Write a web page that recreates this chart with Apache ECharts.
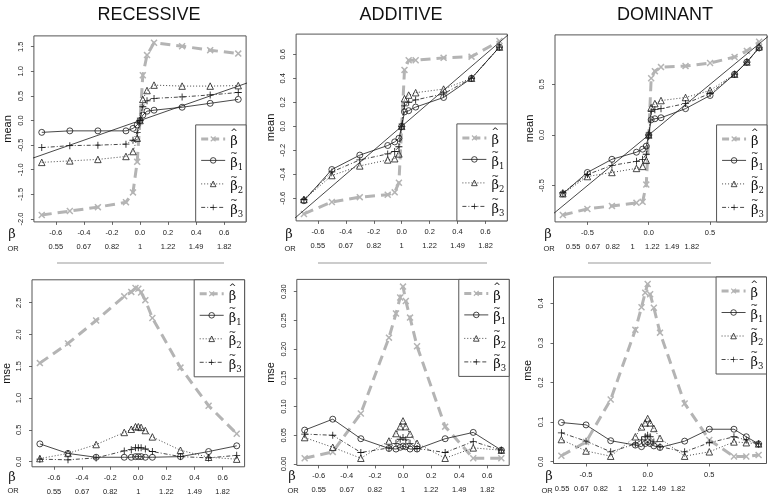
<!DOCTYPE html>
<html><head><meta charset="utf-8">
<script src="https://cdn.jsdelivr.net/npm/echarts@6/dist/echarts.min.js"></script>
<style>html,body{margin:0;padding:0;background:#fff}#c{width:769px;height:497px}</style>
</head><body><div id="c"></div>
<script>
// ---------- data ----------
const betaX = [-0.7,-0.5,-0.3,-0.1,-0.05,-0.02,0,0.02,0.05,0.1,0.3,0.5,0.7];
const betaXDom = [-0.7,-0.5,-0.3,-0.1,-0.05,-0.02,0,0.02,0.05,0.1,0.3,0.5,0.7,0.8,0.9];

const recMeanHat = [-1.92,-1.84,-1.76,-1.66,-1.46,-0.84,0.0,0.92,1.33,1.58,1.51,1.43,1.36];
const recMeanT1  = [-0.24,-0.21,-0.21,-0.21,-0.16,-0.09,0,0.11,0.19,0.21,0.27,0.35,0.43];
const recMeanT2  = [-0.85,-0.82,-0.79,-0.73,-0.63,-0.36,0,0.43,0.61,0.72,0.70,0.70,0.71];
const recMeanT3  = [-0.55,-0.51,-0.50,-0.48,-0.40,-0.24,0,0.28,0.40,0.45,0.48,0.52,0.57];

const addMeanHat = [-0.73,-0.63,-0.59,-0.57,-0.55,-0.47,0,0.47,0.55,0.55,0.57,0.58,0.71];
const addMeanT1  = [-0.62,-0.36,-0.24,-0.16,-0.13,-0.10,0,0.12,0.13,0.16,0.24,0.40,0.66];
const addMeanT2  = [-0.61,-0.41,-0.33,-0.28,-0.27,-0.23,0,0.23,0.26,0.28,0.31,0.40,0.66];
const addMeanT3  = [-0.61,-0.38,-0.28,-0.23,-0.21,-0.17,0,0.17,0.20,0.22,0.27,0.40,0.66];

const domMeanHat = [-0.79,-0.73,-0.70,-0.67,-0.66,-0.49,0,0.56,0.63,0.67,0.68,0.71,0.77,0.83,0.92];
const domMeanT1  = [-0.58,-0.37,-0.24,-0.17,-0.14,-0.11,0,0.15,0.16,0.17,0.26,0.39,0.60,0.72,0.86];
const domMeanT2  = [-0.58,-0.41,-0.37,-0.33,-0.31,-0.25,0,0.27,0.31,0.34,0.37,0.44,0.60,0.72,0.87];
const domMeanT3  = [-0.57,-0.39,-0.30,-0.26,-0.24,-0.19,0,0.23,0.25,0.26,0.31,0.41,0.60,0.72,0.86];

const recMseHat = [1.55,1.86,2.22,2.60,2.67,2.73,2.72,2.66,2.54,2.26,1.48,0.88,0.44];
const recMseT1  = [0.28,0.13,0.07,0.07,0.07,0.08,0.08,0.08,0.07,0.07,0.08,0.16,0.25];
const recMseT2  = [0.05,0.13,0.27,0.46,0.51,0.55,0.55,0.54,0.49,0.39,0.18,0.07,0.04];
const recMseT3  = [0.04,0.03,0.06,0.17,0.19,0.22,0.22,0.22,0.20,0.16,0.08,0.06,0.10];

const addMseHat = [0.010,0.021,0.088,0.220,0.262,0.290,0.309,0.284,0.255,0.205,0.065,0.010,0.010];
const addMseT1  = [0.059,0.078,0.044,0.027,0.026,0.029,0.031,0.030,0.026,0.026,0.044,0.055,0.024];
const addMseT2  = [0.046,0.029,0.010,0.040,0.053,0.065,0.075,0.065,0.052,0.036,0.010,0.028,0.024];
const addMseT3  = [0.052,0.050,0.020,0.028,0.036,0.043,0.046,0.042,0.036,0.027,0.020,0.039,0.024];

const domMseHat = [0.015,0.050,0.157,0.333,0.390,0.427,0.449,0.423,0.389,0.326,0.147,0.055,0.013,0.013,0.017];
const domMseT1  = [0.099,0.093,0.053,0.042,0.038,0.046,0.050,0.046,0.040,0.036,0.052,0.082,0.082,0.063,0.045];
const domMseT2  = [0.056,0.027,0.014,0.063,0.088,0.098,0.109,0.098,0.084,0.059,0.014,0.025,0.050,0.048,0.045];
const domMseT3  = [0.073,0.052,0.025,0.045,0.055,0.063,0.067,0.063,0.050,0.038,0.025,0.048,0.063,0.055,0.045];

const diagLine = [-1.2, 1.2];

const recMeanYTicks = [-2.0,-1.5,-1.0,-0.5,0.0,0.5,1.0,1.5];
const addMeanYTicks = [-0.6,-0.4,-0.2,0.0,0.2,0.4,0.6];
const domMeanYTicks = [-0.5,0.0,0.5];
const recMseYTicks = [0.0,0.5,1.0,1.5,2.0,2.5];
const addMseYTicks = [0.00,0.05,0.10,0.15,0.20,0.25,0.30];
const domMseYTicks = [0.0,0.1,0.2,0.3,0.4];
const betaTicks = [-0.6,-0.4,-0.2,0.0,0.2,0.4,0.6];
const betaTicksDom = [-0.5,0.0,0.5];
const orTicks = [-0.6,-0.4,-0.2,0.0,0.2,0.4,0.6];
const orLabels = ['0.55','0.67','0.82','1','1.22','1.49','1.82'];
const titles = ['RECESSIVE','ADDITIVE','DOMINANT'];

// ---------- layout ----------
const panels = [
  {x:betaX, s:[recMeanHat,recMeanT1,recMeanT2,recMeanT3], diag:true, yt:recMeanYTicks, xt:betaTicks, dec:1, yname:'mean',
   g:{left:33.9, top:35.9, width:212.2, height:186.0}, xr:[-0.756,0.756], yr:[-2.06,1.72], orr:[-0.756,0.756], leg:'br'},
  {x:betaX, s:[addMeanHat,addMeanT1,addMeanT2,addMeanT3], diag:true, yt:addMeanYTicks, xt:betaTicks, dec:1, yname:'mean',
   g:{left:296.1, top:34.1, width:211.2, height:186.8}, xr:[-0.756,0.756], yr:[-0.788,0.768], orr:[-0.756,0.756], leg:'br'},
  {x:betaXDom, s:[domMeanHat,domMeanT1,domMeanT2,domMeanT3], diag:true, yt:domMeanYTicks, xt:betaTicksDom, dec:1, yname:'mean',
   g:{left:555, top:34.9, width:212, height:187}, xr:[-0.764,0.964], yr:[-0.858,0.988], orr:[-0.783,1.359], leg:'br'},
  {x:betaX, s:[recMseHat,recMseT1,recMseT2,recMseT3], diag:false, yt:recMseYTicks, xt:betaTicks, dec:1, yname:'mse',
   g:{left:31.4, top:279.8, width:213.2, height:187}, xr:[-0.756,0.756], yr:[-0.08,2.86], orr:[-0.756,0.756], leg:'tr'},
  {x:betaX, s:[addMseHat,addMseT1,addMseT2,addMseT3], diag:false, yt:addMseYTicks, xt:betaTicks, dec:2, yname:'mse',
   g:{left:296.8, top:279.4, width:212.4, height:186}, xr:[-0.756,0.756], yr:[-0.0025,0.3215], orr:[-0.756,0.756], leg:'tr'},
  {x:betaXDom, s:[domMseHat,domMseT1,domMseT2,domMseT3], diag:false, yt:domMseYTicks, xt:betaTicksDom, dec:1, yname:'mse',
   g:{left:553.5, top:277, width:213, height:186.5}, xr:[-0.764,0.964], yr:[-0.0045,0.4665], orr:[-0.688,1.515], leg:'tr'}
];

const XSYM = 'path://M0,1.5L1.5,0L5,3.5L8.5,0L10,1.5L6.5,5L10,8.5L8.5,10L5,6.5L1.5,10L0,8.5L3.5,5Z';
const PLUS = 'path://M4.4,0H5.6V4.4H10V5.6H5.6V10H4.4V5.6H0V4.4H4.4Z';
const GRAY = '#b4b4b4';
const INK = '#1a1a1a';
const CLEAR = 'rgba(255,255,255,0)';
const serNames = ['hat','t1','t2','t3'];
const serStyle = {
  hat:{lineStyle:{color:GRAY,width:3,type:[10,6]}, symbol:XSYM, symbolSize:7, itemStyle:{color:GRAY}, z:2},
  t1:{lineStyle:{color:INK,width:0.8,type:'solid'}, symbol:'circle', symbolSize:6, itemStyle:{color:CLEAR,borderColor:INK,borderWidth:0.8}, z:4},
  t2:{lineStyle:{color:INK,width:0.8,type:[1,2]}, symbol:'triangle', symbolSize:6.5, itemStyle:{color:CLEAR,borderColor:INK,borderWidth:0.8}, z:4},
  t3:{lineStyle:{color:INK,width:0.8,type:[4,2,1,2]}, symbol:PLUS, symbolSize:7, itemStyle:{color:INK}, z:4}
};
const legendItems = [
  {name:'hat', itemStyle:{color:GRAY, borderWidth:0}, lineStyle:{color:GRAY, width:3, type:[7,4]}},
  {name:'t1', itemStyle:{color:CLEAR, borderColor:INK, borderWidth:0.8}, lineStyle:{color:INK, width:0.8, type:'solid'}},
  {name:'t2', itemStyle:{color:CLEAR, borderColor:INK, borderWidth:0.8}, lineStyle:{color:INK, width:0.8, type:[1,2]}},
  {name:'t3', itemStyle:{color:INK, borderWidth:0}, lineStyle:{color:INK, width:0.8, type:[4,2,1,2]}}
];
const legendText = {hat:'{h|^}\n{b|β}', t1:'{h|~}\n{b|β}{s|1}', t2:'{h|~}\n{b|β}{s|2}', t3:'{h|~}\n{b|β}{s|3}'};
const FONT = 'Liberation Sans';
const SERIF = 'DejaVu Serif';
const W = 769, H = 497;

const option = {backgroundColor:'#fff', animation:false, grid:[], xAxis:[], yAxis:[], series:[], legend:[], title:[], graphic:[]};

function fmt(dec){ return v => { const t = Number(v).toFixed(dec); return /^-0\.0+$/.test(t) ? t.slice(1) : t; }; }

panels.forEach((p,i)=>{
  option.grid.push(Object.assign({show:true, borderColor:'#555', borderWidth:1, backgroundColor:'transparent', containLabel:false}, p.g));
  option.xAxis.push({gridIndex:i, type:'value', min:p.xr[0], max:p.xr[1], position:'bottom',
    axisLine:{show:false, onZero:false}, splitLine:{show:false},
    axisTick:{show:true, customValues:p.xt, length:3, lineStyle:{color:'#444',width:0.8}},
    axisLabel:{customValues:p.xt, formatter:fmt(1), fontSize:7.5, fontFamily:FONT, color:'#222', margin:7}});
  option.xAxis.push({gridIndex:i, type:'value', min:p.orr[0], max:p.orr[1], position:'bottom', offset:18,
    axisLine:{show:false, onZero:false}, splitLine:{show:false}, axisTick:{show:false},
    axisLabel:{customValues:orTicks, fontSize:7.5, fontFamily:FONT, color:'#222', margin:3,
      formatter:v=>{let k=0,d=1e9; orTicks.forEach((t,j)=>{if(Math.abs(t-v)<d){d=Math.abs(t-v);k=j;}}); return orLabels[k];}}});
  option.yAxis.push({gridIndex:i, type:'value', min:p.yr[0], max:p.yr[1], position:'left',
    axisLine:{show:false, onZero:false}, splitLine:{show:false},
    axisTick:{show:true, customValues:p.yt, length:3, lineStyle:{color:'#444',width:0.8}},
    axisLabel:{customValues:p.yt, formatter:fmt(p.dec), rotate:90, fontSize:7.5, fontFamily:FONT, color:'#222', margin:9},
    name:p.yname, nameLocation:'middle', nameRotate:90, nameGap:20,
    nameTextStyle:{fontSize:11, fontFamily:FONT, color:'#111'}});
  if(p.diag){
    option.series.push({type:'line', name:'diag'+i, xAxisIndex:2*i, yAxisIndex:i, data:diagLine.map(v=>[v,v]),
      symbol:'none', clip:true, silent:true, lineStyle:{color:INK,width:0.8}, z:3});
  }
  p.s.forEach((arr,k)=>{
    const nm = serNames[k];
    option.series.push(Object.assign({type:'line', name:nm, xAxisIndex:2*i, yAxisIndex:i, clip:true, silent:true,
      showAllSymbol:true, data:p.x.map((b,j)=>[b,arr[j]])}, serStyle[nm]));
  });
  const lg = {data:legendItems, orient:'vertical', selectedMode:false, itemWidth:24, itemHeight:7, itemGap:1,
    padding:[3,3,3,4], backgroundColor:'#fff', borderColor:'#555', borderWidth:1, borderRadius:0,
    formatter:n=>legendText[n],
    textStyle:{fontFamily:SERIF, fontSize:13, color:'#111',
      rich:{h:{fontFamily:'DejaVu Sans', fontSize:9, lineHeight:6, color:'#111', padding:[0,0,0,0]},
            b:{fontFamily:SERIF, fontSize:13, lineHeight:13, color:'#111'},
            s:{fontFamily:SERIF, fontSize:8.5, lineHeight:13, color:'#111', padding:[8,0,0,0]}}}};
  const gr = p.g.left + p.g.width, gb = p.g.top + p.g.height;
  lg.right = W - gr;
  if(p.leg==='br'){ lg.bottom = H - gb; } else { lg.top = p.g.top; }
  option.legend.push(lg);
});

// titles
const titleX = [144, 396, 660];
titles.forEach((t,i)=> option.title.push({text:t, left:titleX[i], top:1, textAlign:'center',
  textStyle:{fontSize:18, fontWeight:'normal', fontFamily:FONT, color:'#111'}}));

// row labels (beta / OR)
const rowLab = [
  {x:12,y:235,t:'β'},{x:289,y:235,t:'β'},{x:548,y:235,t:'β'},
  {x:12,y:478,t:'β'},{x:292,y:477,t:'β'},{x:549,y:477,t:'β'}
];
rowLab.forEach(r=> option.graphic.push({type:'text', x:r.x, y:r.y, style:{text:r.t, fontSize:13, fontFamily:SERIF, fill:'#222', align:'center', verticalAlign:'middle'}}));
const orLab = [{x:13,y:248.5},{x:290,y:248.5},{x:549,y:248.5},{x:13,y:491},{x:293,y:491},{x:547,y:491}];
orLab.forEach(r=> option.graphic.push({type:'text', x:r.x, y:r.y, style:{text:'OR', fontSize:7.5, fontFamily:FONT, fill:'#222', align:'center', verticalAlign:'middle'}}));
// separator lines
const seps = [[57,224],[318,487],[588,711]];
seps.forEach(s=> option.graphic.push({type:'line', shape:{x1:s[0],y1:263,x2:s[1],y2:263}, style:{stroke:'#bbb', lineWidth:1.5}}));

const chart = echarts.init(document.getElementById('c'), null, {renderer:'canvas'});
chart.setOption(option);
</script></body></html>
